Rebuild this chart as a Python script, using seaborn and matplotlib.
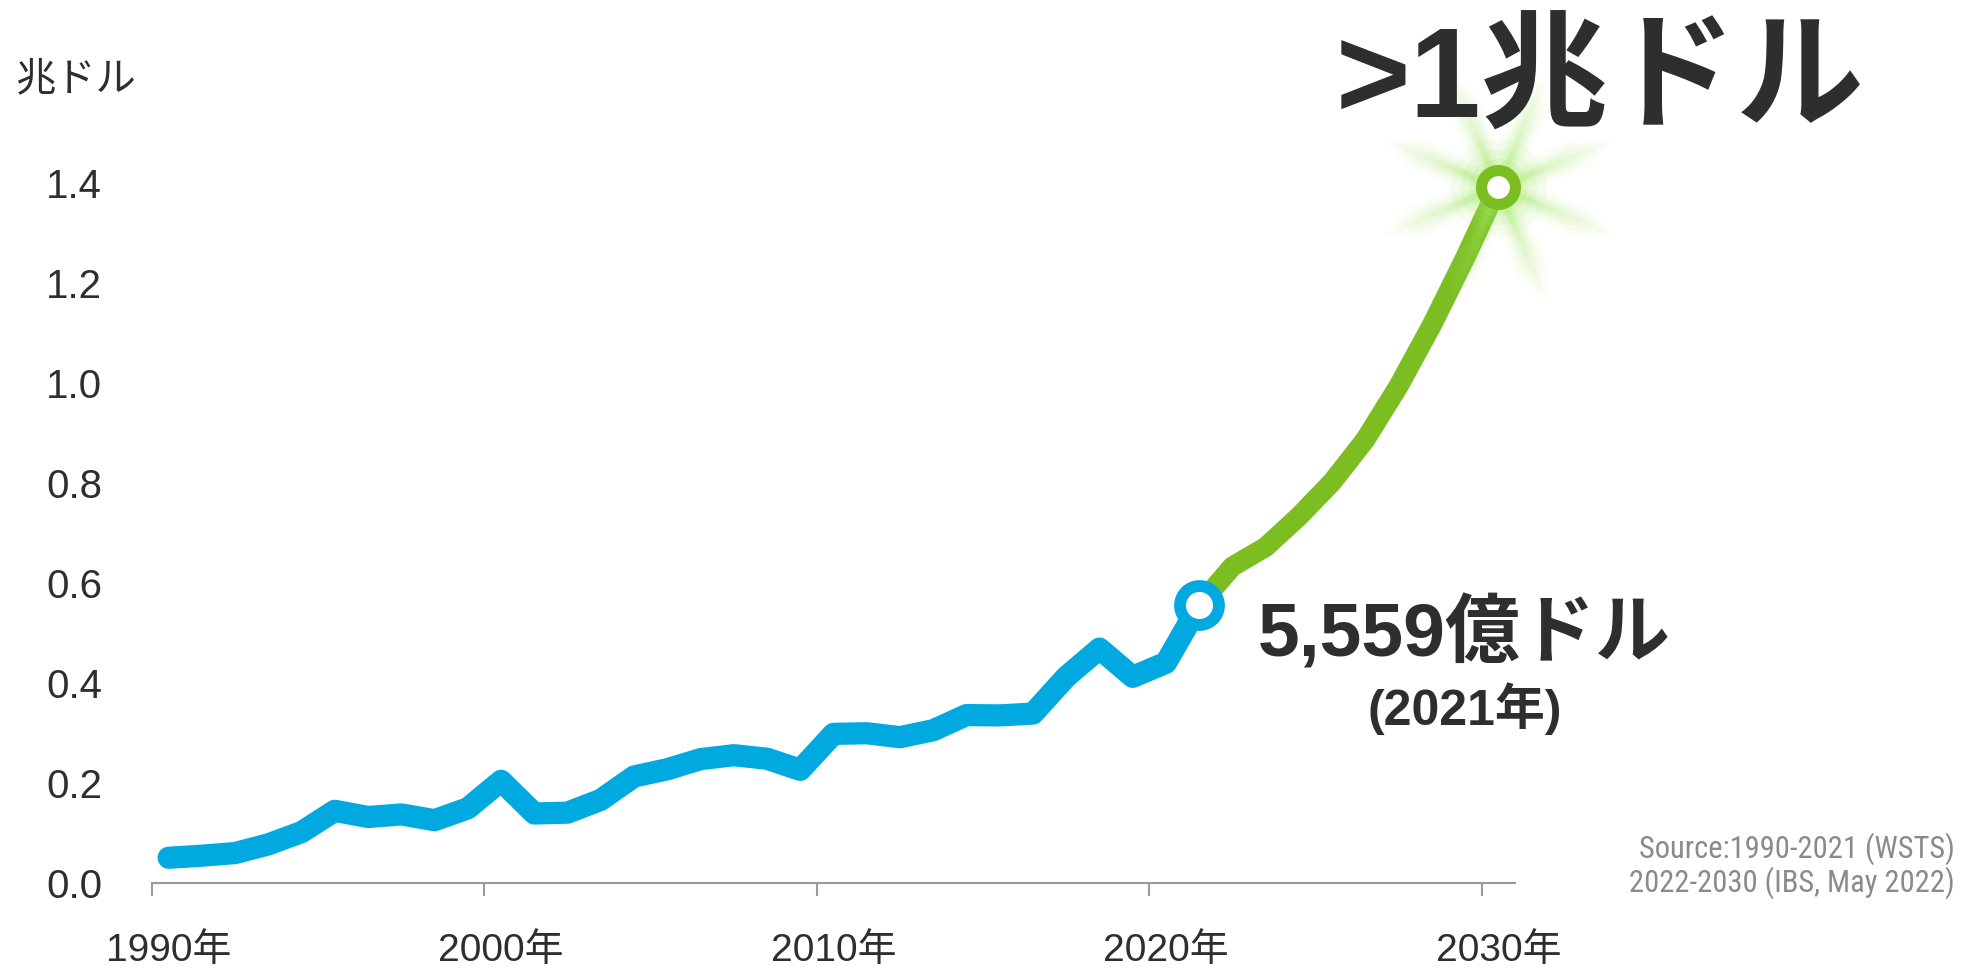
import matplotlib
matplotlib.use("Agg")
import numpy as np
import pandas as pd
import seaborn as sns
import matplotlib.pyplot as plt
from matplotlib.path import Path
from matplotlib.ticker import FixedLocator, FixedFormatter, NullFormatter
from matplotlib import font_manager

# ---------------- data ----------------
years_hist = list(range(1990, 2022))
sales_hist = [0.0505, 0.0546, 0.0599, 0.0773, 0.1019, 0.1444, 0.1320, 0.1372,
              0.1256, 0.1494, 0.2044, 0.1390, 0.1407, 0.1664, 0.2130, 0.2275,
              0.2477, 0.2556, 0.2486, 0.2263, 0.2983, 0.2995, 0.2916, 0.3056,
              0.3358, 0.3352, 0.3389, 0.4122, 0.4688, 0.4123, 0.4404, 0.5559]
years_fc = list(range(2021, 2031))
sales_fc = [0.5559, 0.633, 0.672, 0.733, 0.802, 0.887, 0.994, 1.116, 1.250, 1.393]

decade_ticks = [1990, 2000, 2010, 2020, 2030]
decade_labels = ["1990年", "2000年", "2010年", "2020年", "2030年"]
y_ticks = [0.0, 0.2, 0.4, 0.6, 0.8, 1.0, 1.2, 1.4]
y_tick_labels = ["0.0", "0.2", "0.4", "0.6", "0.8", "1.0", "1.2", "1.4"]
unit_label = "兆ドル"
peak_label = ">1兆ドル"
current_label = "5,559億ドル"
current_year_label = "(2021年)"
source_lines = ["Source:1990-2021 (WSTS)", "2022-2030 (IBS, May 2022)"]

# ---------------- style ----------------
BLUE = "#00A9E0"
GREEN = "#7CBE22"
GLOW = "#A6EC6A"
TEXT = "#2E2E2E"
AXIS = "#9A9A9A"
SRC = "#8A8A8A"
YEAR_CENTER = 0.5

sns.set_theme(style="white")
FAM = ["Liberation Sans", "Noto Sans CJK JP", "DejaVu Sans"]
plt.rcParams["font.family"] = FAM

W, H = 1962, 968
fig = plt.figure(figsize=(W / 100, H / 100), dpi=100)
fig.patch.set_facecolor("white")
ax = fig.add_axes([152 / W, 85 / H, (1515 - 152) / W, 800 / H])
ax.set_facecolor("white")

df_hist = pd.DataFrame({"x": np.array(years_hist) + YEAR_CENTER, "y": sales_hist})
df_fc = pd.DataFrame({"x": np.array(years_fc) + YEAR_CENTER, "y": sales_fc})

sns.lineplot(data=df_fc, x="x", y="y", ax=ax, color=GREEN, linewidth=14.5,
             solid_capstyle="butt", solid_joinstyle="round", clip_on=False, zorder=2)
sns.lineplot(data=df_hist, x="x", y="y", ax=ax, color=BLUE, linewidth=16,
             solid_capstyle="round", solid_joinstyle="round", clip_on=False, zorder=3)


# glow: 8 soft rays at the forecast end point (marker shape, unit length)
def ray_star(w, n=8, offset=22.5):
    verts = []
    step = 360.0 / n
    r_in = w / np.sin(np.deg2rad(step / 2))
    for k in range(n):
        t = np.deg2rad(offset + step * k)
        c, s = np.cos(t), np.sin(t)
        a_in = t - np.deg2rad(step / 2)
        verts.append((r_in * np.cos(a_in), r_in * np.sin(a_in)))
        for (px, py) in [(0.75, -w), (1.0, 0.0), (0.75, w)]:
            verts.append((px * c - py * s, px * s + py * c))
    verts.append(verts[0])
    codes = [Path.MOVETO] + [Path.LINETO] * (len(verts) - 2) + [Path.CLOSEPOLY]
    return Path(verts, codes)


end_x = df_fc["x"].iloc[-1]
end_y = df_fc["y"].iloc[-1]
norm = 1.0 / np.cos(np.deg2rad(22.5))
for L_pt, w, a in [(88, 0.13, 0.05), (82, 0.10, 0.06), (75, 0.08, 0.07),
                   (66, 0.065, 0.08), (56, 0.055, 0.09), (44, 0.05, 0.10),
                   (32, 0.06, 0.12)]:
    ax.plot([end_x], [end_y], marker=ray_star(w), ms=2 * L_pt / norm, mfc=GLOW,
            mec="none", alpha=a, linestyle="none", clip_on=False, zorder=4)
for ms, a in [(70, 0.08), (55, 0.12), (42, 0.16), (34, 0.2)]:
    ax.plot([end_x], [end_y], marker="o", ms=ms, mfc=GLOW, mec="none",
            alpha=a, linestyle="none", clip_on=False, zorder=4)

# end-point circles
ax.plot([df_hist["x"].iloc[-1]], [df_hist["y"].iloc[-1]], marker="o", ms=28, mew=8.5,
        mfc="white", mec=BLUE, linestyle="none", clip_on=False, zorder=6)
ax.plot([end_x], [end_y], marker="o", ms=24.4, mew=8,
        mfc="white", mec=GREEN, linestyle="none", clip_on=False, zorder=6)

# axes
ax.set_xlim(1990, 2031)
ax.set_ylim(0, 1.6)
ax.set_xlabel("")
ax.set_ylabel("")
for side in ["left", "right", "top"]:
    ax.spines[side].set_visible(False)
ax.spines["bottom"].set_color(AXIS)
ax.spines["bottom"].set_linewidth(1.5)

ax.xaxis.set_major_locator(FixedLocator(decade_ticks))
ax.xaxis.set_major_formatter(NullFormatter())
ax.xaxis.set_minor_locator(FixedLocator([d + YEAR_CENTER for d in decade_ticks]))
ax.xaxis.set_minor_formatter(FixedFormatter(decade_labels))
ax.tick_params(axis="x", which="major", bottom=True, direction="out", length=9,
               width=1.5, color=AXIS)
ax.tick_params(axis="x", which="minor", bottom=True, length=0, pad=36,
               labelsize=28, labelcolor=TEXT)
ax.set_yticks(y_ticks)
ax.set_yticklabels(y_tick_labels)
ax.tick_params(axis="y", left=False, length=0, pad=36, labelsize=29, labelcolor=TEXT)
ax.grid(False)


def fx(px):
    return px / W


def fy(py):
    return 1 - py / H


fig.text(fx(15), fy(79), unit_label, fontsize=29, color=TEXT, va="center", ha="left",
         family=["Noto Sans CJK JP", "DejaVu Sans"])
fig.text(fx(1336), fy(118), peak_label, fontsize=92, fontweight="bold", color=TEXT,
         va="baseline", ha="left", family=FAM)
fig.text(fx(1464), fy(657), current_label, fontsize=54, fontweight="bold", color=TEXT,
         va="baseline", ha="center", family=FAM)
fig.text(fx(1465), fy(725), current_year_label, fontsize=36, fontweight="bold", color=TEXT,
         va="baseline", ha="center", family=FAM)

names = {f.name for f in font_manager.fontManager.ttflist}
src_fam, src_size = ["Liberation Sans"], 18
for cand in ["Liberation Sans Narrow", "Roboto Condensed", "Arial Narrow", "Open Sans Condensed"]:
    if cand in names:
        src_fam, src_size = [cand], 22
        break
for text, base in zip(source_lines, [858, 892]):
    fig.text(fx(1955), fy(base), text, fontsize=src_size, color=SRC, va="baseline",
             ha="right", family=src_fam)

fig.savefig("out.png", dpi=100, facecolor="white")
